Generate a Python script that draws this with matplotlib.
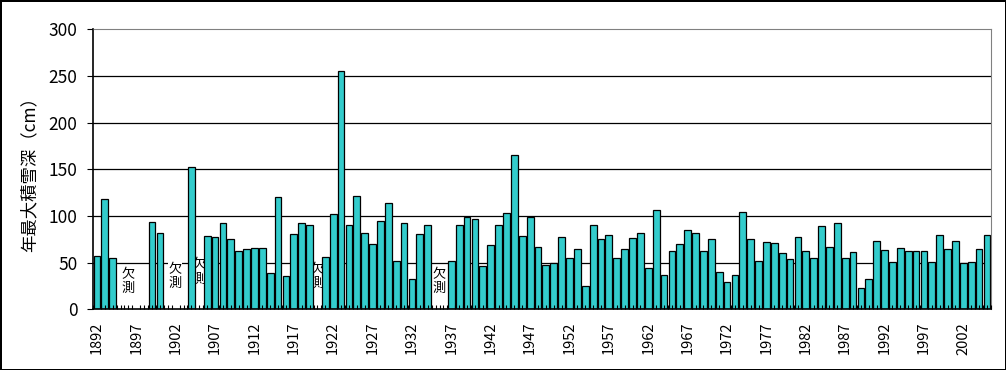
import numpy as np
import matplotlib
matplotlib.use("Agg")
import matplotlib.pyplot as plt

plt.rcParams['font.family'] = ['Noto Sans CJK JP', 'DejaVu Sans']

# 年最大積雪深 (cm), None = 欠測
years = list(range(1892, 2006))
depth = [
    57, 118, 55, None, None, None, None, 94, 82, None,      # 1892-1901
    None, None, 152, None, 79, 77, 92, 75, 63, 65,          # 1902-1911
    66, 66, 39, 120, 36, 81, 93, 90, None, 56,              # 1912-1921
    102, 255, 90, 121, 82, 70, 95, 114, 52, 93,             # 1922-1931
    32, 81, 90, None, None, 52, 90, 99, 97, 46,             # 1932-1941
    69, 90, 103, 165, 79, 99, 67, 47, 50, 77,               # 1942-1951
    55, 65, 25, 90, 75, 80, 55, 65, 76, 82,                 # 1952-1961
    44, 106, 37, 63, 70, 85, 82, 62, 75, 40,                # 1962-1971
    29, 37, 104, 75, 52, 72, 71, 60, 54, 77,                # 1972-1981
    63, 55, 89, 67, 92, 55, 61, 23, 32, 73,                 # 1982-1991
    64, 51, 66, 63, 63, 63, 51, 80, 65, 73,                 # 1992-2001
    50, 51, 65, 80,                                         # 2002-2005
]
# position (index) and height of the "欠測" notes
missing_x = [4.0, 9.9, 13.0, 28.0, 43.5]
missing_y = [30, 35, 40, 35, 30]

idx = np.arange(len(years))
have = [i for i in idx if depth[i] is not None]
vals = [depth[i] for i in have]

fig, ax = plt.subplots(figsize=(10.06, 3.70), dpi=100)
fig.subplots_adjust(left=0.0924, right=0.985, top=0.9208, bottom=0.164)
fig.patch.set_edgecolor('black')
fig.patch.set_linewidth(2)

for v in [50, 100, 150, 200, 250]:
    ax.axhline(v, color='black', lw=0.9, zorder=0.5)

ax.bar(have, vals, width=0.86, color='#33CCCC', edgecolor='black',
       linewidth=0.9, zorder=2)

for mx, my in zip(missing_x, missing_y):
    ax.text(mx, my, '欠\n測', ha='center', va='center', fontsize=9.5,
            linespacing=1.1, zorder=1,
            bbox=dict(facecolor='white', edgecolor='none', pad=0.5))

ax.set_xlim(-0.5, len(years) - 0.5)
ax.set_ylim(0, 300)
ax.set_yticks(range(0, 301, 50))
ax.tick_params(axis='y', direction='out', length=4, width=0.8,
               labelsize=12.5, pad=7, colors='black')

ax.set_xticks(idx[::5])
ax.set_xticklabels([str(y) for y in years[::5]], rotation=90, fontsize=10.5)
ax.tick_params(axis='x', which='major', length=0, pad=9)
ax.set_xticks(np.arange(-0.5, len(years), 0.5), minor=True)
ax.tick_params(axis='x', which='minor', direction='in', length=3, width=0.8)
ax.set_axisbelow(False)

for s in ['top', 'right']:
    ax.spines[s].set_color('#808080')
for s in ['left', 'bottom']:
    ax.spines[s].set_color('black')
    ax.spines[s].set_linewidth(1.2)

fig.text(29 / 1006, 1 - 170 / 370, '年最大積雪深（cm）', rotation=90,
         ha='center', va='center', fontsize=12.5)

plt.savefig('out.png', dpi=100)
